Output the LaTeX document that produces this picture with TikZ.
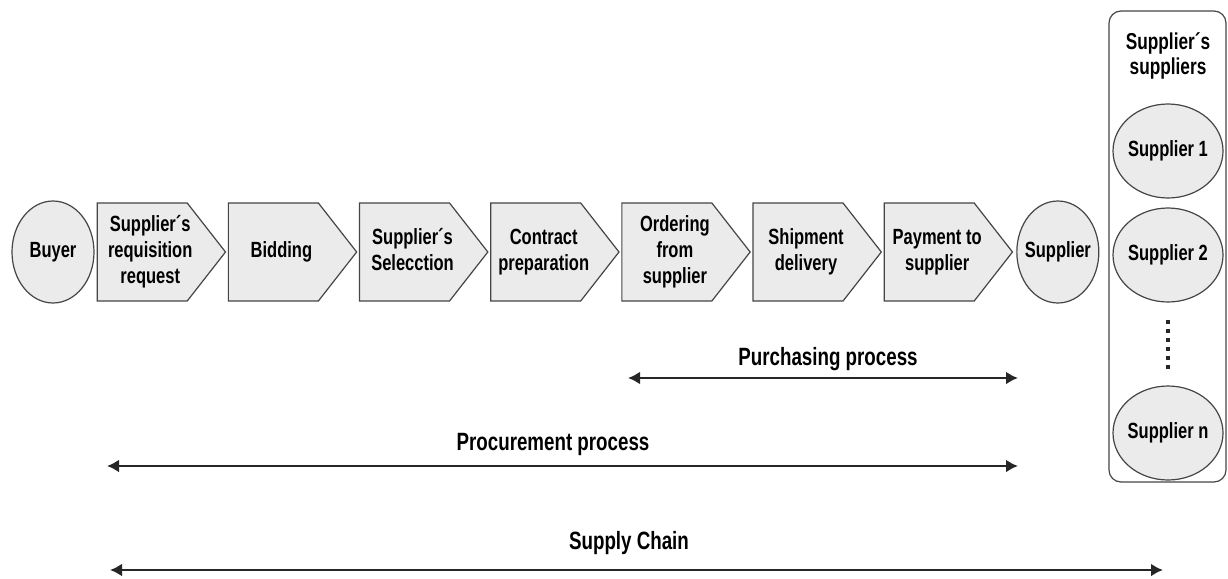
\documentclass[tikz,border=0pt]{standalone}
\usepackage{fontspec}
\setmainfont{Liberation Sans}[FakeStretch=0.75]
\usetikzlibrary{positioning,shapes.symbols,shapes.geometric,arrows.meta}
\definecolor{shapefill}{HTML}{EBEBEB}
\definecolor{shapeline}{HTML}{454545}
\definecolor{spanline}{HTML}{262626}
% text that does not widen its shape
\newcommand{\boxtext}[2][0pt]{\makebox[0pt]{\hspace*{#1}\begin{tabular}{@{}c@{}}#2\end{tabular}}}

\begin{document}
\begin{tikzpicture}[x=1pt, y=-1pt,
    stage/.style={
      signal, signal to=east, signal pointer angle=104, draw=shapeline, fill=shapefill,
      line width=1.2pt, minimum height=98pt, minimum width=128.3pt, inner sep=0pt,
      font=\bfseries\fontsize{22}{26}\selectfont
    },
    party/.style={
      ellipse, draw=shapeline, fill=shapefill, line width=1.2pt, inner sep=0pt,
      minimum width=82pt, minimum height=102pt, font=\bfseries\fontsize{22}{26}\selectfont
    },
    subparty/.style={party, minimum width=110pt, minimum height=94pt},
    caption/.style={font=\bfseries\fontsize{25}{25}\selectfont, align=center},
    span/.style={{Latex[length=12pt,width=13pt]}-{Latex[length=12pt,width=13pt]}, line width=2.4pt, draw=spanline},
  ]
    \useasboundingbox (0,0) rectangle (1228,578);

    \node[party](buyer) at (53,252) {\boxtext{Buyer}};
    \node[stage, right=2pt of buyer](req){\boxtext[16pt]{Supplier´s\\requisition\\request}};
    \node[stage, right=1.5pt of req](bid){\boxtext[16pt]{Bidding}};
    \node[stage, right=1.5pt of bid](sel){\boxtext[16pt]{Supplier´s\\Selecction}};
    \node[stage, right=1.5pt of sel](contract){\boxtext[16pt]{Contract\\preparation}};
    \node[stage, right=1.5pt of contract](order){\boxtext[16pt]{Ordering\\from\\supplier}};
    \node[stage, right=1.5pt of order](ship){\boxtext[16pt]{Shipment\\delivery}};
    \node[stage, right=1.5pt of ship](pay){\boxtext[16pt]{Payment to\\supplier}};
    \node[party, right=3pt of pay](supplier){\boxtext{Supplier}};

    \node[draw=shapeline, line width=1.2pt, rounded corners=12pt,
      minimum width=117pt, minimum height=471pt](group) at (1167.5,246.5) {};
    \node[caption, font=\bfseries\fontsize{23}{25}\selectfont](group_title) at (1168,56) {Supplier´s\\suppliers};
    \node[subparty](sup1) at (1168,151) {\boxtext{Supplier 1}};
    \node[subparty](sup2) at (1168,255) {\boxtext{Supplier 2}};
    \node[subparty](supn) at (1168,433) {\boxtext{Supplier n}};
    \draw[line width=4pt, dash pattern=on 4pt off 5pt, draw=spanline]
      ([yshift=-17pt]sup2.south) -- ([yshift=16pt]supn.north);

    \coordinate (pur_l) at (628,378);
    \coordinate (pur_r) at (1018,378);
    \draw[span] (pur_l) -- (pur_r);
    \node[caption](pur) at (828,359) {Purchasing process};

    \coordinate (proc_l) at (107,466);
    \coordinate (proc_r) at (1018,466);
    \draw[span] (proc_l) -- (proc_r);
    \node[caption](proc) at (553,444) {Procurement process};

    \coordinate (chain_l) at (110,570);
    \coordinate (chain_r) at (1163,570);
    \draw[span] (chain_l) -- (chain_r);
    \node[caption](chain) at (629,543) {Supply Chain};

  \end{tikzpicture}
\end{document}
